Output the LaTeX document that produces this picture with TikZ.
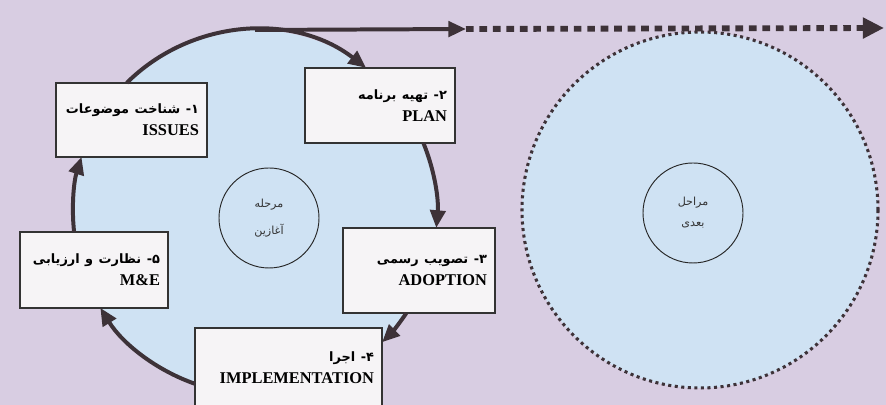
\documentclass[tikz,border=0pt]{standalone}
\usepackage{fontspec}
\setmainfont{Liberation Serif}
\newfontfamily\fafont[Script=Arabic]{DejaVu Sans}
\TeXXeTstate=1
\usetikzlibrary{arrows.meta}

\definecolor{bglilac}{RGB}{216,205,226}
\definecolor{ringblue}{RGB}{207,226,243}
\definecolor{flowline}{RGB}{61,50,56}
\definecolor{boxfill}{RGB}{246,244,246}

\newcommand{\fa}[1]{{\fafont\bfseries\fontsize{11}{19}\selectfont\beginR #1\endR}}
\newcommand{\fathin}[1]{{\fafont\fontsize{9.5}{21}\selectfont\beginR #1\endR}}

\begin{document}
\begin{tikzpicture}[x=0.03cm,y=0.03cm,
    flow/.style={draw=flowline, line width=3.4pt, -{Triangle[length=15pt,width=13pt]}},
    stage/.style={draw=black!80, fill=boxfill, line width=0.9pt, inner xsep=0.24cm, align=right,
      font=\fontsize{14}{19}\selectfont\bfseries},
    hub/.style={circle, draw=black!85, line width=0.8pt, minimum size=3cm, align=center,
      text=black!80}]

    % Background
    \fill[bglilac] (0,0) rectangle (886,405);
    \useasboundingbox (0,0) rectangle (886,405);

    % Circles
    \coordinate (c) at (255,193);
    \coordinate (n) at (700,195);
    \fill[ringblue] (c) circle[radius=182];
    \fill[ringblue] (n) circle[radius=178];
    \draw[flowline, line width=2.6pt, dash pattern=on 2.6pt off 3pt] (n) circle[radius=178];

    \node[hub] (start) at (269,187) {\fathin{مرحله}\\[11pt] \fathin{آغازین}};
    \node[hub] (next) at (693,192) {\fathin{مراحل}\\[6pt] \fathin{بعدی}};

    % Stages
    \node[stage, text width=4.05cm, minimum height=2.22cm] (issues) at (131.5,285)
        {\fa{۱- شناخت موضوعات}\\ ISSUES\\[2pt]};
    \node[stage, text width=4.02cm, minimum height=2.25cm] (plan) at (380,299.5)
        {\fa{۲- تهیه برنامه}\\ PLAN\\[2pt]};
    \node[stage, text width=4.08cm, minimum height=2.55cm] (adopt) at (419,134.5)
        {\fa{۳- تصویب رسمی}\\ ADOPTION\\[4pt]};
    \node[stage, text width=5.13cm, minimum height=2.4cm] (impl) at (288.5,37)
        {\fa{۴- اجرا}\\ IMPLEMENTATION\\[4pt]};
    \node[stage, text width=3.96cm, minimum height=2.28cm] (me) at (94,135)
        {\fa{۵- نظارت و ارزیابی}\\ M\&E\\[2pt]};

    % Cycle arrows
    \draw[flow] (c) ++(134.8:182) arc[start angle=134.8, end angle=52.4, radius=182];
    \draw[flow] (c) ++(22.3:182) arc[start angle=22.3, end angle=-5, radius=182];
    \draw[flow] (c) ++(-33.8:182) arc[start angle=-33.8, end angle=-45.7, radius=182];
    \draw[flow] (c) ++(-109.2:182) arc[start angle=-109.2, end angle=-148.2, radius=182];
    \draw[flow] (c) ++(186.3:182) arc[start angle=186.3, end angle=162.4, radius=182];

    % Way out
    \coordinate (top) at (255,375);
    \coordinate (out) at (466,376);
    \coordinate (far) at (884,377);
    \draw[flow] (top) -- (out);
    \draw[flowline, line width=5pt, dash pattern=on 6.5pt off 5pt,
        -{Triangle[length=18pt,width=17pt]}] (out) -- (far);
\end{tikzpicture}
\end{document}
